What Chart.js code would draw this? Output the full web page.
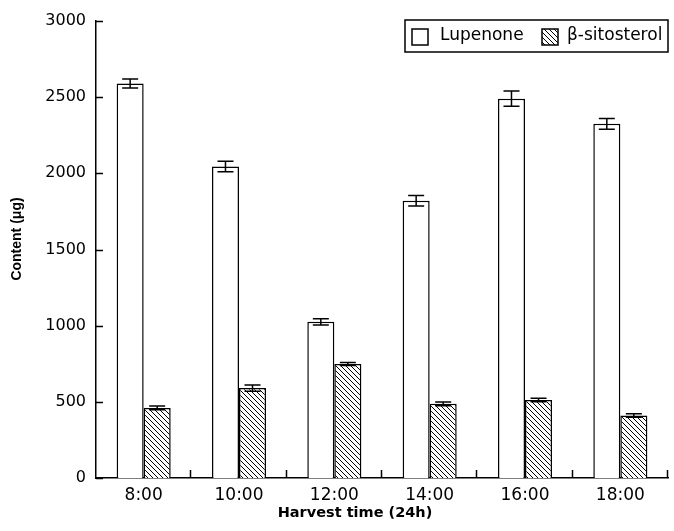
<!DOCTYPE html>
<html>
<head>
<meta charset="utf-8">
<script src="https://cdn.jsdelivr.net/npm/chart.js@4.4.1/dist/chart.umd.min.js"></script>
<style>
  body{ margin:0; background:#fff; }
  #wrap{ width:674px; height:531px; }
</style>
</head>
<body>
<div id="wrap"><canvas id="contentChart" width="674" height="531"></canvas></div>
<script>

/* DATA */

const harvestTimes = ["8:00","10:00","12:00","14:00","16:00","18:00"];

const lupenone = [2590, 2045, 1025, 1820, 2490, 2325];
const lupenoneErr = [30, 35, 20, 35, 50, 35];

const sitosterol = [460, 590, 748, 487, 512, 410];
const sitosterolErr = [12, 20, 10, 12, 12, 12];

const yTicks = [0, 500, 1000, 1500, 2000, 2500, 3000];

const xTitle = "Harvest time (24h)";
const yTitle = "Content (μg)";

/* HATCH PATTERN */

function makeHatch(){

    const size = 5;
    const c = document.createElement("canvas");
    c.width = size;
    c.height = size;

    const p = c.getContext("2d");
    p.fillStyle = "#fff";
    p.fillRect(0, 0, size, size);
    p.strokeStyle = "#000";
    p.lineWidth = 1;

    p.beginPath();
    p.moveTo(-1, -1);
    p.lineTo(size + 1, size + 1);
    p.moveTo(-1, size - 1);
    p.lineTo(1, size + 1);
    p.moveTo(size - 1, -1);
    p.lineTo(size + 1, 1);
    p.stroke();

    return p.createPattern(c, "repeat");
}

const ctx = document.getElementById("contentChart").getContext("2d");
const hatch = makeHatch();

/* ERROR BARS, INWARD TICKS, LEGEND, AXIS TITLES */

const extras = {
    id: "extras",
    afterDatasetsDraw(chart){

        const c = chart.ctx;
        const y = chart.scales.y;
        const x = chart.scales.x;
        const area = chart.chartArea;
        const errs = [lupenoneErr, sitosterolErr];

        c.save();
        c.strokeStyle = "#000";
        c.lineWidth = 1.5;

        chart.data.datasets.forEach((ds, d) => {
            const meta = chart.getDatasetMeta(d);
            meta.data.forEach((bar, i) => {
                const top = y.getPixelForValue(ds.data[i] + errs[d][i]);
                const bot = y.getPixelForValue(ds.data[i] - errs[d][i]);
                c.beginPath();
                c.moveTo(bar.x, top);
                c.lineTo(bar.x, bot);
                c.moveTo(bar.x - 8, top);
                c.lineTo(bar.x + 8, top);
                c.moveTo(bar.x - 8, bot);
                c.lineTo(bar.x + 8, bot);
                c.stroke();
            });
        });

        // y ticks pointing inside
        yTicks.forEach(v => {
            const py = Math.round(y.getPixelForValue(v)) + 0.5;
            c.beginPath();
            c.moveTo(area.left, py);
            c.lineTo(area.left + 7, py);
            c.stroke();
        });

        // x ticks between categories, pointing up
        const half = (x.getPixelForValue(1) - x.getPixelForValue(0)) / 2;
        harvestTimes.forEach((t, i) => {
            const px = Math.round(x.getPixelForValue(i) + half) - 0.5;
            c.beginPath();
            c.moveTo(px, area.bottom);
            c.lineTo(px, area.bottom - 8);
            c.stroke();
        });

        // legend box
        const bx = area.right - 263;
        const by = area.top - 1;
        c.lineWidth = 1.5;
        c.strokeRect(bx, by, 263, 32);

        c.font = "17px 'DejaVu Sans'";
        c.fillStyle = "#000";
        c.textBaseline = "middle";

        c.fillStyle = "#fff";
        c.fillRect(bx + 7, by + 9, 16, 16);
        c.strokeRect(bx + 7, by + 9, 16, 16);
        c.fillStyle = "#000";
        c.fillText(chart.data.datasets[0].label, bx + 35, by + 16);

        c.fillStyle = hatch;
        c.fillRect(bx + 137, by + 9, 16, 16);
        c.strokeRect(bx + 137, by + 9, 16, 16);
        c.fillStyle = "#000";
        c.fillText(chart.data.datasets[1].label, bx + 162, by + 16);

        // axis titles
        c.textAlign = "center";
        c.font = "bold 14.5px 'DejaVu Sans'";
        c.fillText(xTitle, area.left + 259, 513);

        c.translate(17, area.top + 218);
        c.rotate(-Math.PI / 2);
        c.font = "bold 14px 'Liberation Sans'";
        c.fillText(yTitle, 0, 0);

        c.restore();
    }
};

new Chart(ctx, {
    type: "bar",
    data: {
        labels: harvestTimes,
        datasets: [
            {
                label: "Lupenone",
                data: lupenone,
                backgroundColor: "#fff",
                borderColor: "#000",
                borderWidth: 1.5,
                categoryPercentage: 0.567,
                barPercentage: 1.0
            },
            {
                label: "β-sitosterol",
                data: sitosterol,
                backgroundColor: hatch,
                borderColor: "#000",
                borderWidth: 1.5,
                categoryPercentage: 0.567,
                barPercentage: 1.0
            }
        ]
    },
    options: {
        responsive: false,
        animation: false,
        layout: { padding: { left: 0, right: 6, top: 21, bottom: 0 } },
        plugins: {
            legend: { display: false },
            tooltip: { enabled: false }
        },
        scales: {
            x: {
                grid: { display: false, drawTicks: false },
                border: { display: true, color: "#000", width: 1.5 },
                ticks: {
                    color: "#000",
                    padding: 7,
                    font: { family: "'DejaVu Sans'", size: 17 }
                },
                afterFit(scale){ scale.height = 53; }
            },
            y: {
                min: 0,
                max: 3000,
                afterBuildTicks(scale){
                    scale.ticks = yTicks.map(v => ({ value: v }));
                },
                grid: { display: false, drawTicks: false },
                border: { display: true, color: "#000", width: 1.5 },
                ticks: {
                    color: "#000",
                    padding: 10,
                    font: { family: "'DejaVu Sans'", size: 16 },
                    callback: v => String(v)
                },
                afterFit(scale){ scale.width = 96; }
            }
        }
    },
    plugins: [extras]
});

</script>
</body>
</html>
